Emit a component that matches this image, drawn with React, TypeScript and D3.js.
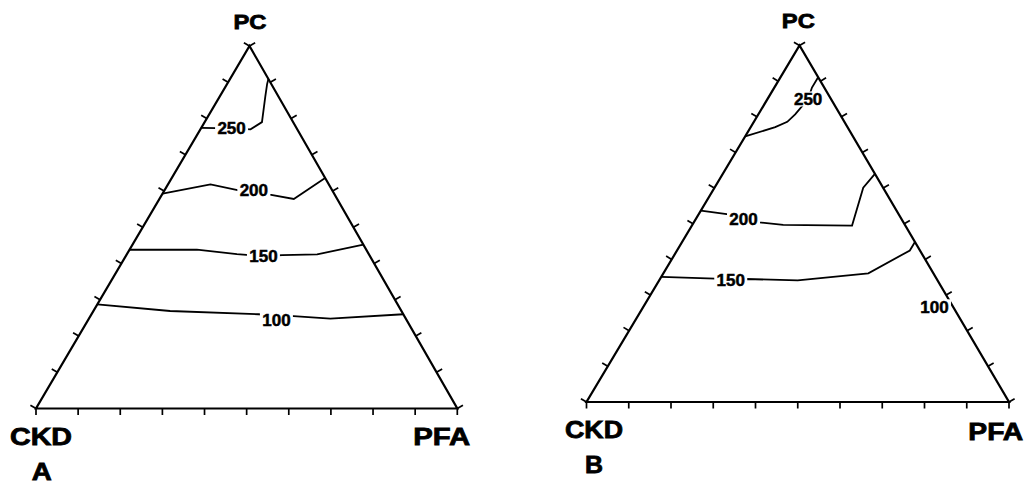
import React from 'react';
import * as d3 from 'd3';

// compositions are [PC %, PFA %]; CKD makes up the rest
const tickPercents = [0, 10, 20, 30, 40, 50, 60, 70, 80, 90, 100];

// plot A
const levelsA = [250, 200, 150, 100];
const a250 = [[77.4, 0], [77.3, 7.2], [77.0, 11.9], [79.0, 13.6], [86.1, 10.8], [89.5, 9.5], [90.9, 9.1]];
const a200 = [[59.3, 0], [61.8, 10.1], [60.2, 17.6], [60.2, 21.2], [59.0, 25.6], [57.8, 31.9], [63.6, 36.4]];
const a150 = [[43.8, 0], [43.8, 16.0], [42.6, 26.1], [42.0, 32.7], [42.3, 37.0], [42.5, 45.2], [45.2, 54.8]];
const a100 = [[28.7, 0], [26.9, 18.2], [26.0, 39.6], [25.5, 48.2], [24.8, 57.3], [26.0, 74.0]];
const labelsA = [[77.4, 7.2], [60.2, 21.2], [42.0, 32.7], [24.4, 44.7]];

// plot B
const levelsB = [250, 200, 150, 100];
const b250 = [[74.5, 0], [77.1, 5.8], [78.6, 7.9], [80.7, 8.7], [85.0, 9.6], [88.2, 8.9], [91.1, 8.9]];
const b200 = [[53.7, 0], [52.6, 7.1], [51.3, 11.3], [50.4, 15.5], [49.7, 21.5], [49.5, 37.9], [60.1, 35.2], [64.0, 36.0]];
const b150 = [[35.1, 0], [34.6, 13.0], [34.2, 16.9], [34.5, 20.4], [34.1, 32.8], [36.1, 48.5], [42.5, 55.1], [44.9, 55.1]];
const b100 = [[26.2, 72.4], [28.0, 72.0]];
const labelsB = [[85.0, 9.6], [51.3, 11.3], [34.2, 16.9], [26.7, 68.9]];

type Pt = [number, number];

const font = "'Liberation Sans', Arial, sans-serif";

function Ternary(props: any) {
  const { ckd, pfa, pc, lines, levels, labels, names } = props;
  const pfaScale = d3.scaleLinear().domain([0, 100]).range([ckd[0], pfa[0]]);
  const pcShift = d3.scaleLinear().domain([0, 100]).range([0, pc[0] - ckd[0]]);
  const pcScale = d3.scaleLinear().domain([0, 100]).range([ckd[1], pc[1]]);
  const project = (d: number[]): Pt => [pfaScale(d[1]) + pcShift(d[0]), pcScale(d[0])];
  const line = d3
    .line<number[]>()
    .x((d) => project(d)[0])
    .y((d) => project(d)[1]);

  const cx = (ckd[0] + pfa[0] + pc[0]) / 3;
  const cy = (ckd[1] + pfa[1] + pc[1]) / 3;
  const tickLen = 6.5;

  const edges = [
    { at: (t: number) => [0, t], a: ckd, b: pfa },
    { at: (t: number) => [t, 0], a: ckd, b: pc },
    { at: (t: number) => [t, 100 - t], a: pfa, b: pc },
  ];

  const ticks: any[] = [];
  edges.forEach((e, ei) => {
    const vx = e.b[0] - e.a[0];
    const vy = e.b[1] - e.a[1];
    const len = Math.hypot(vx, vy);
    let nx = -vy / len;
    let ny = vx / len;
    const mx = (e.a[0] + e.b[0]) / 2 - cx;
    const my = (e.a[1] + e.b[1]) / 2 - cy;
    if (nx * mx + ny * my < 0) {
      nx = -nx;
      ny = -ny;
    }
    tickPercents.forEach((t) => {
      const p = project(e.at(t));
      ticks.push(
        <line
          key={ei + '-' + t}
          x1={p[0]}
          y1={p[1]}
          x2={p[0] + nx * tickLen}
          y2={p[1] + ny * tickLen}
          stroke="#000"
          strokeWidth={1.7}
        />
      );
    });
  });

  return (
    <g>
      <path d={line([[0, 0], [0, 100], [100, 0]] as any) + 'Z'} fill="none" stroke="#000" strokeWidth={2.2} />
      {ticks}
      {lines.map((l: number[][], i: number) => (
        <path key={'c' + i} d={line(l) || ''} fill="none" stroke="#000" strokeWidth={1.8} />
      ))}
      {labels.map((d: number[], i: number) => {
        const p = project(d);
        return (
          <g key={'l' + i}>
            <rect x={p[0] - 16.5} y={p[1] - 7.5} width={33} height={15} fill="#fff" />
            <text
              x={p[0]}
              y={p[1]}
              dy="0.36em"
              textAnchor="middle"
              fontSize={17}
              fontWeight="bold"
              fontFamily={font}
              stroke="#000"
              strokeWidth={0.5}
            >
              {levels[i]}
            </text>
          </g>
        );
      })}
      {names.map((n: any, i: number) => (
        <text
          key={'n' + i}
          x={n.x}
          y={n.y}
          textAnchor={n.anchor || 'start'}
          fontSize={n.size}
          fontWeight="bold"
          fontFamily={font}
          textLength={n.w}
          lengthAdjust="spacingAndGlyphs"
          stroke="#000"
          strokeWidth={0.8}
        >
          {n.text}
        </text>
      ))}
    </g>
  );
}

export default function App() {
  const namesA = [
    { text: 'PC', x: 250, y: 28.5, anchor: 'middle', size: 21, w: 33 },
    { text: 'CKD', x: 10, y: 445, size: 24, w: 62 },
    { text: 'PFA', x: 413.3, y: 445, size: 24, w: 57 },
    { text: 'A', x: 31.7, y: 479.5, size: 24, w: 20 },
  ];
  const namesB = [
    { text: 'PC', x: 798.3, y: 27.5, anchor: 'middle', size: 21, w: 33 },
    { text: 'CKD', x: 565, y: 438.3, size: 24, w: 58 },
    { text: 'PFA', x: 968.3, y: 440, size: 24, w: 55 },
    { text: 'B', x: 585, y: 472.7, size: 24, w: 18 },
  ];
  return (
    <svg width={1026} height={483} style={{ position: 'absolute', left: 0, top: 0, background: '#fff' }}>
      <rect width={1026} height={483} fill="#fff" />
      <Ternary
        ckd={[36, 408.5]}
        pfa={[457.3, 408.5]}
        pc={[249.5, 46]}
        lines={[a250, a200, a150, a100]}
        levels={levelsA}
        labels={labelsA}
        names={namesA}
      />
      <Ternary
        ckd={[586.5, 402]}
        pfa={[1009, 402]}
        pc={[799.5, 45.5]}
        lines={[b250, b200, b150, b100]}
        levels={levelsB}
        labels={labelsB}
        names={namesB}
      />
    </svg>
  );
}
